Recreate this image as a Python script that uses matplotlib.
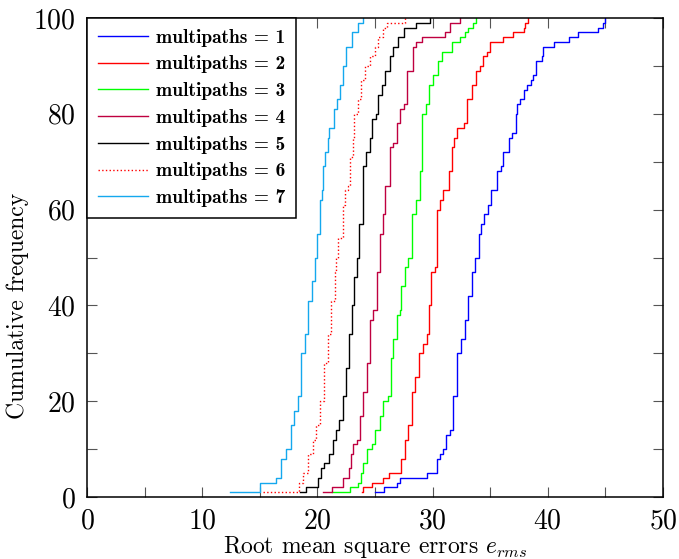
import matplotlib
matplotlib.use("Agg")
import matplotlib.pyplot as plt
from matplotlib.ticker import MultipleLocator

plt.rcParams['font.family'] = 'cmr10'
plt.rcParams['mathtext.fontset'] = 'cm'
plt.rcParams['axes.formatter.use_mathtext'] = True
plt.rcParams['axes.unicode_minus'] = False

# ---- data (error value at each step, cumulative frequency after the step) ----
rms_1 = [25.0, 25.8, 26.9, 27.2, 29.5, 30.4, 30.6, 30.9, 31.2, 31.5, 31.8, 32.1, 32.5, 32.8,
         33.1, 33.4, 33.7, 34.0, 34.2, 34.5, 34.8, 35.1, 35.6, 35.9, 36.1, 36.6, 36.9, 37.2,
         37.3, 37.6, 37.9, 38.2, 38.5, 38.7, 39.0, 39.5, 39.6, 40.5, 41.8, 42.6, 44.4, 44.8, 45.0]
cdf_1 = [1, 2, 3, 4, 5, 8, 9, 10, 13, 14, 21, 30, 33, 37,
         42, 47, 50, 55, 57, 59, 61, 64, 68, 69, 72, 75, 76, 80,
         82, 83, 85, 86, 87, 88, 91, 92, 94, 95, 96, 97, 98, 99, 100]

rms_2 = [23.9, 24.0, 24.7, 25.7, 26.2, 27.3, 27.6, 27.9, 28.2, 28.5, 28.8, 29.2, 29.5, 29.7,
         29.9, 30.2, 30.4, 30.6, 30.9, 31.4, 31.7, 31.9, 32.1, 32.7, 33.0, 33.4, 33.8, 34.1,
         34.4, 34.7, 35.0, 36.1, 37.0, 37.9, 38.0, 38.25]
cdf_2 = [1, 2, 3, 4, 5, 8, 12, 15, 22, 25, 30, 32, 34, 40,
         47, 48, 60, 62, 64, 68, 73, 75, 77, 78, 83, 86, 89, 90,
         92, 93, 95, 96, 97, 98, 99, 100]

rms_3 = [21.3, 22.8, 23.55, 23.8, 24.0, 24.3, 24.7, 25.0, 25.4, 25.7, 26.15, 26.4, 26.6, 26.9,
         27.2, 27.3, 27.6, 27.9, 28.2, 28.6, 28.9, 29.1, 29.4, 29.7, 30.0, 30.5, 30.85, 31.7,
         32.4, 32.8, 33.1, 33.5, 33.8]
cdf_3 = [1, 2, 3, 5, 7, 10, 11, 14, 17, 20, 21, 29, 33, 38,
         39, 44, 48, 50, 59, 62, 68, 80, 82, 86, 88, 91, 93, 95,
         96, 97, 98, 99, 100]

rms_4 = [20.45, 21.3, 22.25, 22.7, 22.9, 23.1, 23.4, 23.7, 24.0, 24.3, 24.6, 24.85, 25.15, 25.4,
         25.7, 25.9, 26.3, 26.6, 26.9, 27.2, 27.5, 27.8, 28.3, 28.6, 29.05, 31.1, 31.5, 32.4]
cdf_4 = [1, 2, 4, 6, 9, 11, 12, 17, 22, 28, 37, 39, 47, 55,
         59, 65, 73, 74, 78, 81, 82, 89, 94, 95, 96, 97, 99, 100]

rms_5 = [18.5, 19.05, 20.05, 20.3, 20.6, 21.05, 21.35, 21.6, 21.9, 22.2, 22.5, 22.7, 23.0, 23.2,
         23.45, 23.6, 24.0, 24.2, 24.6, 24.7, 25.1, 25.3, 25.6, 25.9, 26.3, 26.6, 27.0, 27.5,
         28.6, 29.8]
cdf_5 = [1, 2, 4, 6, 7, 9, 12, 14, 16, 21, 27, 34, 40, 46,
         50, 57, 69, 72, 75, 79, 80, 84, 86, 89, 92, 94, 96, 98,
         99, 100]

rms_6 = [15.3, 18.4, 18.75, 19.2, 19.6, 19.9, 20.2, 20.6, 20.9, 21.2, 21.5, 21.6, 21.8, 22.2,
         22.4, 22.65, 22.8, 23.1, 23.2, 23.5, 23.8, 24.1, 24.6, 25.0, 25.3, 25.7, 26.0, 27.6]
cdf_6 = [1, 3, 5, 9, 12, 15, 20, 28, 34, 41, 47, 50, 54, 61,
         64, 65, 71, 75, 80, 83, 87, 90, 92, 94, 96, 98, 99, 100]

rms_7 = [12.4, 15.0, 16.4, 16.8, 17.3, 17.7, 18.0, 18.3, 18.6, 18.9, 19.2, 19.5, 19.8, 20.0,
         20.2, 20.4, 20.5, 20.7, 20.95, 21.0, 21.4, 21.7, 21.95, 22.25, 22.5, 23.0, 23.55, 24.0]
cdf_7 = [1, 3, 4, 8, 10, 15, 18, 21, 30, 34, 41, 45, 50, 55,
         62, 64, 69, 72, 75, 77, 81, 83, 86, 90, 94, 97, 99, 100]

labels = ['multipaths = 1', 'multipaths = 2', 'multipaths = 3', 'multipaths = 4',
          'multipaths = 5', 'multipaths = 6', 'multipaths = 7']
colors = ['#0000ff', '#ff0000', '#00ff00', '#bf0040', '#000000', '#ff0000', '#14a8ee']
styles = ['-', '-', '-', '-', '-', ':', '-']
x_ticks = [0, 10, 20, 30, 40, 50]
y_ticks = [0, 20, 40, 60, 80, 100]

series = [(rms_1, cdf_1), (rms_2, cdf_2), (rms_3, cdf_3), (rms_4, cdf_4),
          (rms_5, cdf_5), (rms_6, cdf_6), (rms_7, cdf_7)]

fig = plt.figure(figsize=(6.79, 5.59), dpi=100)
ax = fig.add_axes([87 / 679, 62 / 559, 576 / 679, 479 / 559])

for (xs, ys), lab, c, ls in zip(series, labels, colors, styles):
    ax.plot(xs, ys, drawstyle='steps-post', color=c, linestyle=ls, lw=1.0, label=lab)

ax.set_xlim(0, 50)
ax.set_ylim(0, 100)
ax.set_xticks(x_ticks)
ax.set_yticks(y_ticks)
ax.xaxis.set_minor_locator(MultipleLocator(5))
ax.yaxis.set_minor_locator(MultipleLocator(10))
ax.tick_params(which='both', direction='in', top=True, right=True, length=7,
               width=0.8, color='#555555')
ax.tick_params(axis='both', which='major', labelsize=20)
ax.tick_params(axis='x', pad=8)
ax.tick_params(axis='y', pad=8)
for s in ax.spines.values():
    s.set_linewidth(1.1)

ax.set_xlabel(r'Root mean square errors $e_{rms}$', fontsize=17, labelpad=0)
ax.set_ylabel('Cumulative frequency', fontsize=17, labelpad=6)
ax.yaxis.set_label_coords(-0.1, 0.40)

leg = ax.legend(loc='upper left', borderaxespad=0, fancybox=False, framealpha=1,
                edgecolor='black', prop={'family': 'cmb10', 'size': 14},
                handlelength=2.6, handletextpad=0.4, labelspacing=0.45, borderpad=0.55)
leg.get_frame().set_linewidth(1.1)

fig.savefig('out.png', dpi=100)
